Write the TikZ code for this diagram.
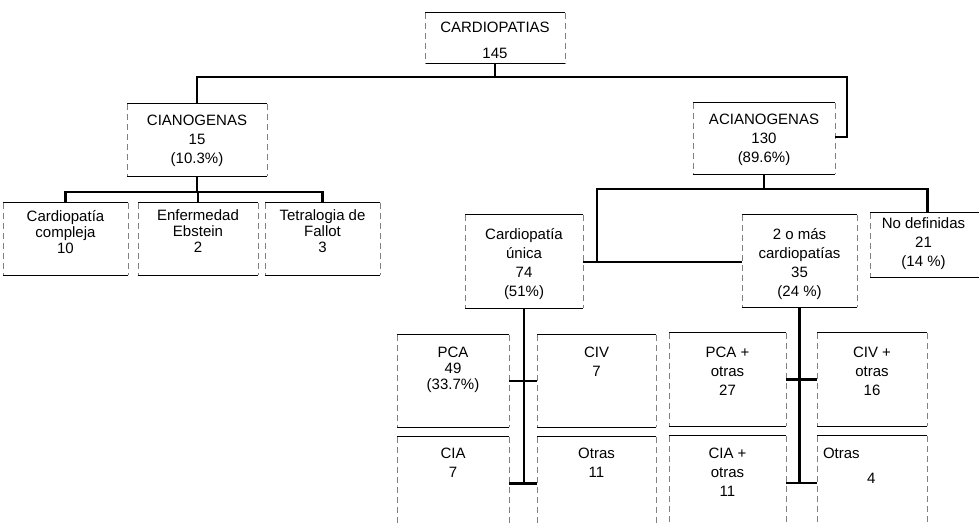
\documentclass[tikz,border=0pt]{standalone}
\usepackage{fontspec}
\setmainfont{Liberation Sans}
\usetikzlibrary{positioning,fit}
\tikzset{
  caja/.style={rectangle, inner sep=0pt},
  borde/.style={line width=1pt},
  lado/.style={line width=0.4pt, gray, dash pattern=on 6pt off 4pt},
  con/.style={line width=2.5pt},
  txt/.style={align=center, inner sep=0pt, font=\fontsize{15}{19}\selectfont},
  apretado/.style={font=\fontsize{15}{16}\selectfont}
}
\begin{document}
\begin{tikzpicture}[x=1pt, y=-1pt]
    \useasboundingbox (0,0) rectangle (979,525);
    % Cajas
    \node[caja, fit={(425,13) (565,63)}] (raiz) {};
    \node[caja, fit={(127,104) (267,176)}] (ciano) {};
    \node[caja, fit={(693,103) (835,174)}] (aciano) {};
    \node[caja, fit={(3,203) (128,275)}] (compleja) {};
    \node[caja, fit={(138,203) (258,275)}] (ebstein) {};
    \node[caja, fit={(265,203) (380,275)}] (fallot) {};
    \node[caja, fit={(465,215) (583,308)}] (unica) {};
    \node[caja, fit={(742,215) (857,307)}] (dosmas) {};
    \node[caja, fit={(870,213) (985,277)}] (nodef) {};
    \node[caja, fit={(397,335) (509,427)}] (pca) {};
    \node[caja, fit={(537,335) (656,427)}] (civ) {};
    \node[caja, fit={(397,437) (509,530)}] (cia) {};
    \node[caja, fit={(537,437) (656,530)}] (otras) {};
    \node[caja, fit={(669,333) (786,426)}] (pcamas) {};
    \node[caja, fit={(817,333) (927,426)}] (civmas) {};
    \node[caja, fit={(669,436) (786,530)}] (ciamas) {};
    \node[caja, fit={(817,436) (927,530)}] (otrasmas) {};

    \foreach \n in {raiz,ciano,aciano,compleja,ebstein,fallot,unica,dosmas,nodef,
                    pca,civ,cia,otras,pcamas,civmas,ciamas,otrasmas} {
        \draw[borde] (\n.north west) -- (\n.north east)
                     (\n.south west) -- (\n.south east);
        \draw[lado] (\n.north west) -- (\n.south west)
                    (\n.north east) -- (\n.south east);
    }

    % Textos
    \node[txt, below=9pt of raiz.north] (raiz-t) {CARDIOPATIAS\\[7pt]145};
    \node[txt, below=11pt of ciano.north] (ciano-t) {CIANOGENAS\\15\\(10.3\%)};
    \node[txt, below=11pt of aciano.north] (aciano-t) {ACIANOGENAS\\130\\(89.6\%)};
    \node[txt, apretado, below=7pt of compleja.north] (compleja-t) {Cardiopatía\\compleja\\10};
    \node[txt, apretado, below=7pt of ebstein.north] (ebstein-t) {Enfermedad\\Ebstein\\2};
    \node[txt, apretado, below=7pt of fallot.north] (fallot-t) {Tetralogia de\\Fallot\\3};
    \node[txt, below=13pt of unica.north] (unica-t) {Cardiopatía\\única\\74\\(51\%)};
    \node[txt, below=13pt of dosmas.north] (dosmas-t) {2 o más\\cardiopatías\\35\\(24 \%)};
    \node[txt, below=5pt of nodef.north, xshift=-4pt] (nodef-t) {No definidas\\21\\(14 \%)};
    \node[txt, apretado, below=12pt of pca.north] (pca-t) {PCA\\49\\(33.7\%)};
    \node[txt, below=12pt of civ.north] (civ-t) {CIV\\7};
    \node[txt, below=11pt of cia.north] (cia-t) {CIA\\7};
    \node[txt, below=11pt of otras.north] (otras-t) {Otras\\11};
    \node[txt, below=14pt of pcamas.north] (pcamas-t) {PCA +\\otras\\27};
    \node[txt, below=14pt of civmas.north] (civmas-t) {CIV +\\otras\\16};
    \node[txt, below=12pt of ciamas.north] (ciamas-t) {CIA +\\otras\\11};
    \node[txt, align=left, below right=12pt and 6pt of otrasmas.north west] (otrasmas-t) {Otras\\[6pt]\hspace*{44pt}4};

    % Conectores
    \draw[con] (raiz.south) -- ++(0,14) coordinate (b1);
    \draw[con] (b1) -| (ciano.north);
    \coordinate (codo) at (847,137);
    \draw[con] (b1) -| (codo) -- (codo -| aciano.east);

    \draw[con] (ciano.south) -- ++(0,16) coordinate (b2);
    \draw[con] (b2) -| (compleja.north);
    \draw[con] (b2) -| (ebstein.north);
    \draw[con] (b2) -| (fallot.north);

    \draw[con] (aciano.south) -- ++(0,15) coordinate (b3);
    \coordinate (enlace) at (597,262);
    \draw[con] (b3) -| (enlace);
    \draw[con] (b3) -| (nodef.north);
    \draw[con] (enlace -| unica.east) -- (enlace -| dosmas.west);

    \draw[con] (unica.south) -- (unica.south |- cia.east);
    \draw[con] (pca.east) -- (civ.west);
    \draw[con] (cia.east) -- (otras.west);

    \draw[con] (dosmas.south) -- (dosmas.south |- ciamas.east);
    \draw[con] (pcamas.east) -- (civmas.west);
    \draw[con] (ciamas.east) -- (otrasmas.west);
\end{tikzpicture}
\end{document}
